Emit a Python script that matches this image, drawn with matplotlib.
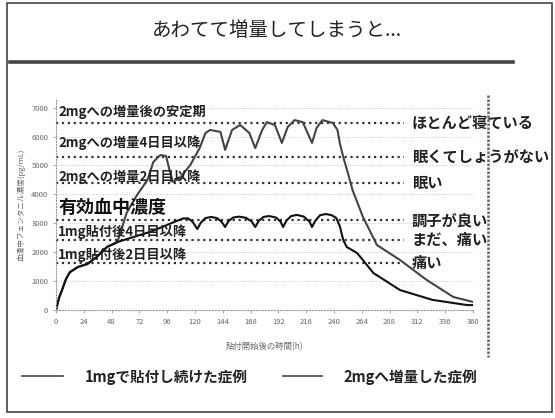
import matplotlib.pyplot as plt
from matplotlib.lines import Line2D
from matplotlib.patches import Rectangle

plt.rcParams['font.family'] = ['Noto Sans CJK JP', 'DejaVu Sans']

# 1mgで貼付し続けた症例
hours_1mg = [0, 2.6, 5.2, 8.6, 12, 19, 27, 35, 44, 53, 64, 81, 94, 104, 110, 114, 118, 122,
             125, 129, 134, 139, 143, 146, 149, 153, 158, 164, 169, 172, 175, 179, 184, 190,
             194, 196, 199, 203, 208, 214, 219, 221, 224, 228, 233, 238, 242, 245, 248, 251,
             260, 274, 297, 325, 355, 360]
conc_1mg = [0, 415, 690, 1070, 1310, 1490, 1590, 1830, 2180, 2350, 2490, 2700, 2910, 3080,
            3170, 3170, 3050, 2800, 3020, 3180, 3220, 3180, 3050, 2870, 3080, 3200, 3230, 3190,
            3060, 2870, 3080, 3220, 3250, 3200, 3050, 2870, 3100, 3250, 3290, 3230, 3050, 2870,
            3100, 3280, 3320, 3280, 3180, 2900, 2420, 2180, 1970, 1280, 690, 350, 170, 170]

# 2mgへ増量した症例
hours_2mg = [0, 2.6, 5.2, 8.6, 12, 19, 27, 35, 44, 53, 61, 70, 79, 84, 90, 95, 98, 101, 107,
             116, 124, 129, 133, 142, 146, 152, 159, 167, 172, 178, 182, 189, 195, 200, 206,
             213, 221, 225, 230, 239, 243, 245, 248, 252, 256, 265, 277, 297, 320, 343, 360]
conc_2mg = [0, 415, 690, 1070, 1310, 1490, 1590, 1830, 2180, 2350, 3360, 3980, 4500, 5120,
            5360, 5330, 4840, 4430, 4570, 5020, 5600, 6120, 6230, 6160, 5540, 6230, 6400, 6120,
            5600, 6230, 6500, 6400, 5780, 6330, 6570, 6500, 5780, 6300, 6570, 6470, 6230, 5780,
            5290, 4740, 4150, 3220, 2250, 1730, 1040, 450, 280]

x_ticks = list(range(0, 361, 24))
y_ticks = list(range(0, 7001, 1000))

level_values = [6470, 5300, 4400, 3100, 2430, 1640]
level_labels = ['ほとんど寝ている', '眠くてしょうがない', '眠い', '調子が良い', 'まだ、痛い', '痛い']

phase_labels = ['2mgへの増量後の安定期', '2mgへの増量4日目以降', '2mgへの増量2日目以降',
                '1mg貼付後4日目以降', '1mg貼付後2日目以降']
phase_y = [6850, 5780, 4600, 2700, 1900]

W, H = 555, 418


def px(x, y):
    return x / W, 1 - y / H


fig = plt.figure(figsize=(W / 100, H / 100), dpi=100)
fig.patch.set_facecolor('white')

# slide frame and title
fig.add_artist(Rectangle(px(7, 412), 545 / W, 409 / H, transform=fig.transFigure,
                         fill=False, lw=1.2, ec='#444'))
fig.text(*px(277, 30), 'あわてて増量してしまうと...', ha='center', va='center',
         fontsize=14, color='#222')
fig.add_artist(Line2D([10 / W, 513 / W], [1 - 62 / H] * 2, transform=fig.transFigure,
                      lw=2.6, color='#444'))
fig.add_artist(Line2D([488 / W] * 2, [1 - 95 / H, 1 - 357 / H], transform=fig.transFigure,
                      lw=1.8, color='#666', ls=(0, (1, 0.6)), zorder=0.5))

ax = fig.add_axes([56 / W, 1 - 310 / H, 417 / W, 211 / H])
ax.set_xlim(0, 360)
ax.set_ylim(0, 7300)
ax.set_xticks(x_ticks)
ax.set_yticks(y_ticks)
ax.tick_params(labelsize=5.5, labelcolor='#666', color='#999', length=2, width=0.6)
for s in ['top', 'right']:
    ax.spines[s].set_visible(False)
for s in ['left', 'bottom']:
    ax.spines[s].set_color('#999')
    ax.spines[s].set_linestyle(':')
ax.grid(axis='y', ls=':', lw=0.6, color='#bbb')
ax.set_axisbelow(True)
ax.patch.set_alpha(0)
ax.set_xlabel('貼付開始後の時間(h)', fontsize=6, color='#666', labelpad=12)
ax.set_ylabel('血清中フェンタニル濃度(pg/mL)', fontsize=5.5, color='#666')
ax.yaxis.set_label_coords(-30 / 417, 0.5)

for v, lab in zip(level_values, level_labels):
    ax.plot([0, 300], [v, v], ls=':', lw=1.6, color='#333')
    ax.text(307, v, lab, fontsize=11, fontweight='bold', color='#222',
            va='center', ha='left', clip_on=False)

for v, lab in zip(phase_y, phase_labels):
    ax.text(2, v, lab, fontsize=9.5, fontweight='bold', color='#222', va='center', ha='left')
ax.text(2, 3530, '有効血中濃度', fontsize=13, fontweight='bold', color='#111',
        va='center', ha='left')

ax.plot(hours_2mg, conc_2mg, color='#444', lw=1.5)
ax.plot(hours_1mg, conc_1mg, color='#111', lw=1.5)

# legend row
fig.add_artist(Line2D([22 / W, 63 / W], [1 - 376 / H] * 2, transform=fig.transFigure,
                      lw=1.2, color='#444'))
fig.text(*px(85, 377), '1mgで貼付し続けた症例', ha='left', va='center', fontsize=10.5,
         fontweight='bold', color='#222')
fig.add_artist(Line2D([283 / W, 322 / W], [1 - 376 / H] * 2, transform=fig.transFigure,
                      lw=1.2, color='#444'))
fig.text(*px(343, 377), '2mgへ増量した症例', ha='left', va='center', fontsize=10.5,
         fontweight='bold', color='#222')

fig.savefig('out.png', dpi=100)
